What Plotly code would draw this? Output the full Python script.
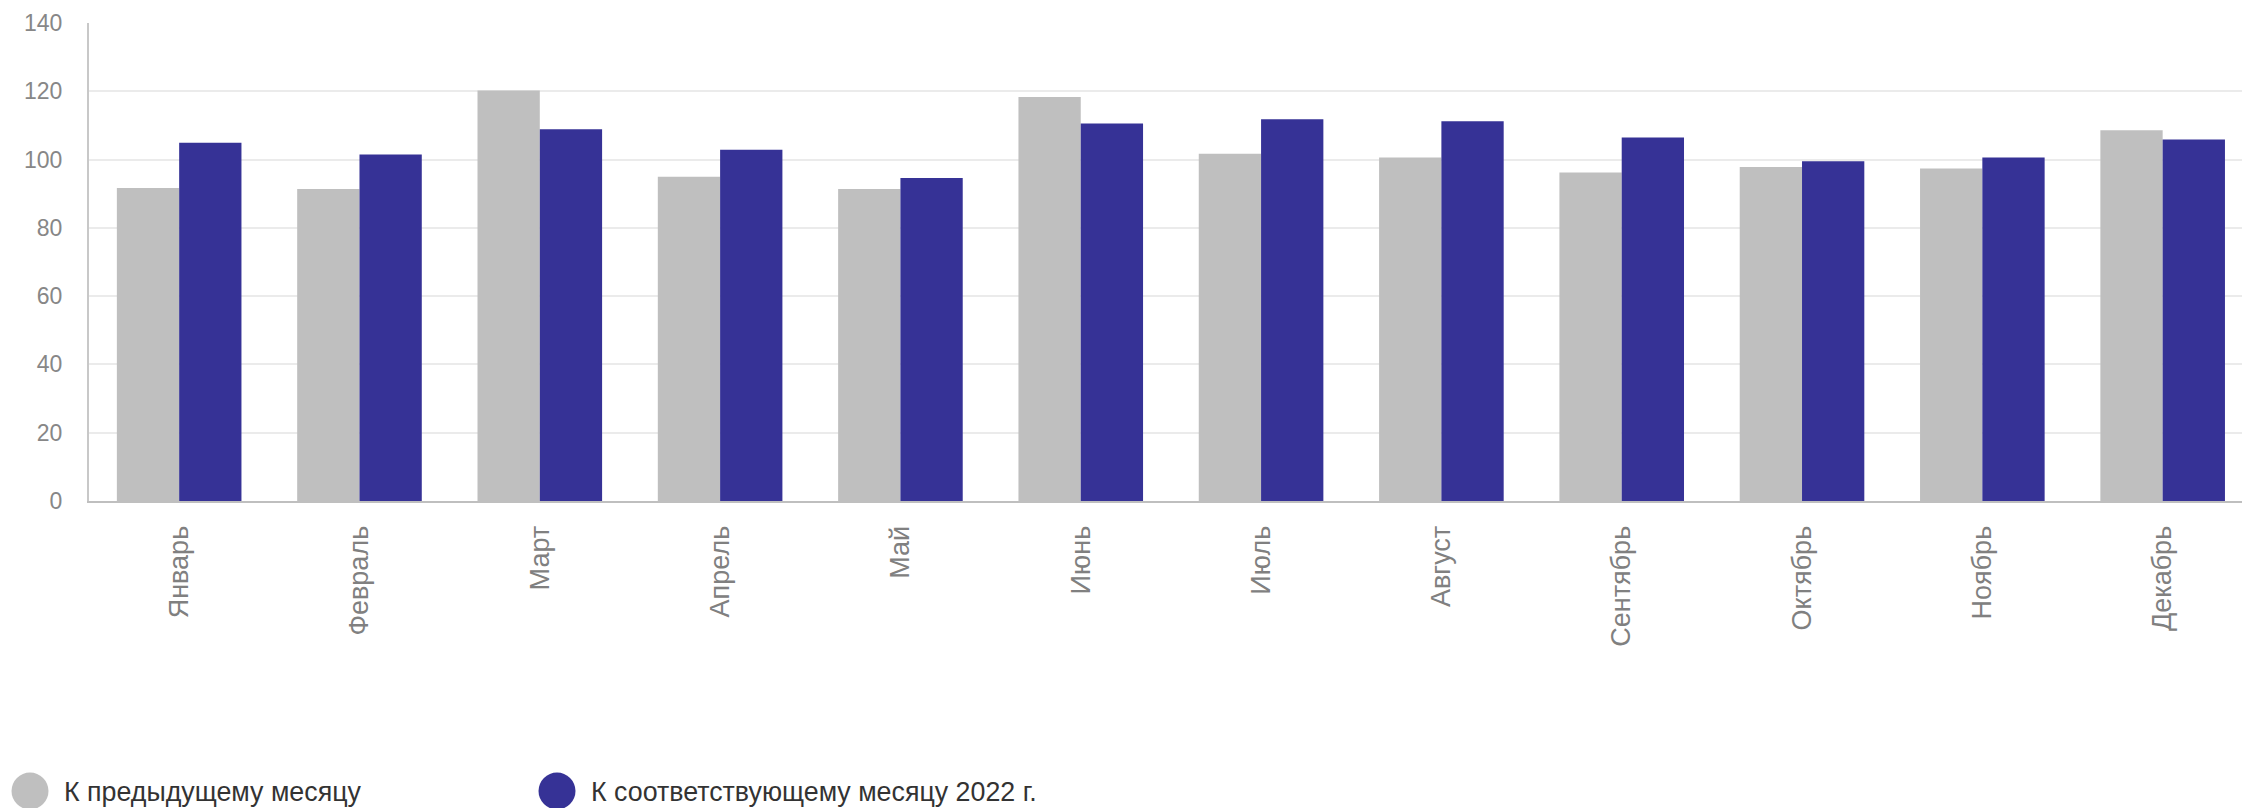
import plotly.graph_objects as go

months = ["Январь", "Февраль", "Март", "Апрель", "Май", "Июнь",
          "Июль", "Август", "Сентябрь", "Октябрь", "Ноябрь", "Декабрь"]
prev_month = [91.7, 91.4, 120.2, 95.0, 91.4, 118.3, 101.7, 100.6, 96.2, 97.8, 97.4, 108.6]
same_month_2022 = [104.9, 101.5, 108.9, 102.9, 94.6, 110.6, 111.8, 111.2, 106.5, 99.5, 100.6, 105.9]
series_names = ["К предыдущему месяцу", "К соответствующему месяцу 2022 г."]
colors = ["#bfbfbf", "#363296"]
y_ticks = [0, 20, 40, 60, 80, 100, 120, 140]

W, H = 2242, 808
L, R, T, B = 89, 0, 23, 307
PW, PH = W - L - R, H - T - B

fig = go.Figure()
fig.add_trace(go.Bar(x=months, y=prev_month, name=series_names[0],
                     marker=dict(color=colors[0], line=dict(width=0))))
fig.add_trace(go.Bar(x=months, y=same_month_2022, name=series_names[1],
                     marker=dict(color=colors[1], line=dict(width=0))))

def px_x(p):
    return (p - L) / PW

def px_y(p):
    return (H - B - p) / PH

shapes = []
annotations = []
legend_items = [(30, 62), (557, 589)]
for (cx, tx), name, col in zip(legend_items, series_names, colors):
    shapes.append(dict(type="circle", xref="paper", yref="paper",
                       xsizemode="pixel", ysizemode="pixel",
                       xanchor=px_x(cx), yanchor=px_y(791),
                       x0=-18.5, x1=18.5, y0=-18.5, y1=18.5,
                       fillcolor=col, line=dict(width=0)))
    annotations.append(dict(text=name, xref="paper", yref="paper",
                            x=px_x(tx), y=px_y(792), xanchor="left", yanchor="middle",
                            showarrow=False,
                            font=dict(family="Liberation Sans, Arial", size=26.8, color="#333333")))

fig.update_layout(
    width=W, height=H,
    margin=dict(l=L, r=R, t=T, b=B, pad=0),
    paper_bgcolor="white", plot_bgcolor="white",
    barmode="group", bargap=0.309, bargroupgap=0,
    showlegend=False,
    shapes=shapes, annotations=annotations,
    font=dict(family="Liberation Sans, Arial"),
)
fig.update_xaxes(
    type="category", range=[-0.5, 11.44],
    tickangle=-90, ticklabelstandoff=12,
    tickfont=dict(size=27, color="#808080"),
    showgrid=False, showline=True, linecolor="#bfbfbf", linewidth=2,
    ticks="", zeroline=False,
)
fig.update_yaxes(
    range=[0, 140], tickvals=y_ticks,
    tickfont=dict(size=23, color="#878787"),
    ticklabelstandoff=20,
    showgrid=True, gridcolor="#ebebeb", gridwidth=1.5,
    showline=True, linecolor="#c8c8c8", linewidth=2,
    zeroline=False, ticks="",
)

fig.write_html("out.html", config={"displayModeBar": False},
               post_script="document.body.style.margin='0';")
